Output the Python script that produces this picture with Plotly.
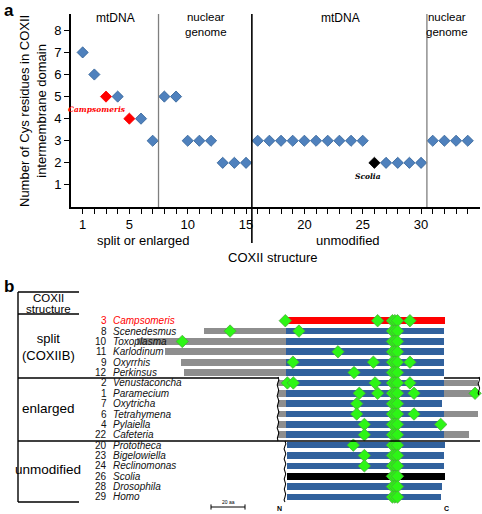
import plotly.graph_objects as go

W, H = 482, 514
FONT = "Liberation Sans, Arial, sans-serif"

# ---------------- Panel a data ----------------
cys_x = list(range(1, 35))
cys_y = [7, 6, 5, 5, 4, 4, 3, 5, 5, 3, 3, 3, 2, 2, 2,
         3, 3, 3, 3, 3, 3, 3, 3, 3, 3, 2, 2, 2, 2, 2, 3, 3, 3, 3]
highlight = {3: "#ff0000", 5: "#ff0000", 26: "#000000"}
x_tick_labels = {1: "1", 5: "5", 10: "10", 15: "15", 20: "20", 25: "25", 30: "30"}
y_ticks = [1, 2, 3, 4, 5, 6, 7, 8]
section_bounds = [7.5, 15.5, 30.5]

# ---------------- Panel b data ----------------
species_num = [3, 8, 10, 11, 9, 12, 2, 1, 7, 6, 4, 22, 20, 23, 24, 26, 28, 29]
species = ["Campsomeris", "Scenedesmus", "Toxoplasma", "Karlodinum", "Oxyrrhis",
           "Perkinsus", "Venustaconcha", "Paramecium", "Oxytricha", "Tetrahymena",
           "Pylaiella", "Cafeteria", "Prototheca", "Bigelowiella", "Reclinomonas",
           "Scolia", "Drosophila", "Homo"]
core_start = [0] * 12 + [0.5] * 6
core_end = [93.5, 93, 93, 93, 93, 93, 93, 93, 91.8, 93, 91.8, 93,
            93.5, 93, 93, 93.5, 91.8, 91.2]
n_ext = [None, -48.2, -87.6, -71.2, -61.8, -60.0,
         -4.7, -4.7, -4.7, -4.7, -4.7, -4.7,
         None, None, None, None, None, None]
c_ext = [None] * 6 + [113.0, 112.5, None, 113.0, None, 107.6] + [None] * 6
core_color = ["#ff0000"] + ["#31619d"] * 14 + ["#000000"] + ["#31619d"] * 2
cluster = [62.6, 64.1, 65.6]
cys_pos = [
    [-0.4, 53.9, 72.9],
    [-32.9, 7.6],
    [-61.0],
    [30.6],
    [4.1, 51.4, 72.9],
    [40.0],
    [0.8, 4.3, 52.4, 72.9],
    [43.1, 53.9, 75.3, 111.2],
    [41.6],
    [41.6, 75.3],
    [46.1, 91.0],
    [46.1],
    [39.6],
    [46.1],
    [46.1],
    [],
    [],
    [],
]
scale_bar_aa = 20

# ---------------- helpers (pixel -> paper) ----------------
def px(x):
    return x / W

def py(y):
    return 1 - y / H

fig = go.Figure()

# ---- Panel a scatter ----
base_x = [x for x in cys_x if x not in highlight]
base_y = [cys_y[x - 1] for x in base_x]
fig.add_trace(go.Scatter(
    x=base_x, y=base_y, mode="markers", xaxis="x", yaxis="y",
    marker=dict(symbol="diamond", size=8.6, color="#4f81bd",
                line=dict(color="#2f5f96", width=0.8)),
    showlegend=False, hoverinfo="x+y"))
for hx, col in highlight.items():
    fig.add_trace(go.Scatter(
        x=[hx], y=[cys_y[hx - 1]], mode="markers", xaxis="x", yaxis="y",
        marker=dict(symbol="diamond", size=8.6, color=col,
                    line=dict(color=col, width=0.8)),
        showlegend=False))

XA_DOM = [px(71), px(480)]
XA_RNG = [0, 35.05]
YA_DOM = [py(207), py(14)]
YA_RNG = [0, 8.74]

def xa_paper(v):
    return XA_DOM[0] + (v - XA_RNG[0]) / (XA_RNG[1] - XA_RNG[0]) * (XA_DOM[1] - XA_DOM[0])

shapes = []
# section boundaries
shapes.append(dict(type="line", xref="paper", yref="paper",
                   x0=xa_paper(section_bounds[0]), x1=xa_paper(section_bounds[0]),
                   y0=py(207), y1=py(14), line=dict(color="#7f7f7f", width=1.3)))
shapes.append(dict(type="line", xref="paper", yref="paper",
                   x0=xa_paper(section_bounds[1]), x1=xa_paper(section_bounds[1]),
                   y0=py(243), y1=py(14), line=dict(color="#000000", width=1.6)))
shapes.append(dict(type="line", xref="paper", yref="paper",
                   x0=xa_paper(section_bounds[2]), x1=xa_paper(section_bounds[2]),
                   y0=py(207), y1=py(14), line=dict(color="#7f7f7f", width=1.3)))

# ---- Panel b ----
X2_RNG = [(0 - 286) / 1.7, (W - 286) / 1.7]
ROW0, ROWH = 320.7, 10.37
Y2_TOP, Y2_BOT = 286, 514
Y2_RNG = [(Y2_BOT - ROW0) / ROWH, (Y2_TOP - ROW0) / ROWH]
rows = list(range(len(species)))
BW = 0.64

# N-terminal extensions
nb, nl, nr = [], [], []
for i in rows:
    if n_ext[i] is not None:
        nb.append(n_ext[i]); nl.append(core_start[i] - n_ext[i]); nr.append(i)
fig.add_trace(go.Bar(orientation="h", base=nb, x=nl, y=nr, width=BW,
                     xaxis="x2", yaxis="y2", marker=dict(color="#8e8e8e", line=dict(width=0)),
                     showlegend=False))
# C-terminal extensions
cb, cl, cr = [], [], []
for i in rows:
    if c_ext[i] is not None:
        cb.append(core_end[i]); cl.append(c_ext[i] - core_end[i]); cr.append(i)
fig.add_trace(go.Bar(orientation="h", base=cb, x=cl, y=cr, width=BW,
                     xaxis="x2", yaxis="y2", marker=dict(color="#8e8e8e", line=dict(width=0)),
                     showlegend=False))
# core domain
fig.add_trace(go.Bar(orientation="h", base=core_start,
                     x=[e - s for s, e in zip(core_start, core_end)], y=rows, width=BW,
                     xaxis="x2", yaxis="y2",
                     marker=dict(color=core_color, line=dict(width=0)),
                     showlegend=False))
# Cys diamonds
dx, dy = [], []
for i in rows:
    for p in cys_pos[i] + cluster:
        dx.append(p); dy.append(i)
fig.add_trace(go.Scatter(x=dx, y=dy, mode="markers", xaxis="x2", yaxis="y2",
                         marker=dict(symbol="diamond", size=9.6, color="#2df516",
                                     line=dict(color="#4c9e3e", width=0.7)),
                         showlegend=False))

# table lines (paper)
def hline(y, x0, x1, w=1.4):
    shapes.append(dict(type="line", xref="paper", yref="paper",
                       x0=px(x0), x1=px(x1), y0=py(y), y1=py(y),
                       line=dict(color="#000000", width=w)))

shapes.append(dict(type="line", xref="paper", yref="paper",
                   x0=px(18), x1=px(18), y0=py(292), y1=py(502),
                   line=dict(color="#000000", width=1.4)))
hline(292, 18, 79)
hline(314, 18, 79)
hline(378, 18, 279)
hline(378, 444, 480)
hline(441, 18, 480)
hline(502, 18, 79)

# wavy break lines (in x2/y2 coordinates)
def wavy(xc, r0, r1, n=14, amp=0.9):
    step = (r1 - r0) / n
    path = f"M {xc} {r0}"
    for k in range(n):
        ya = r0 + step * (k + 0.5)
        yb = r0 + step * (k + 1)
        xo = xc + (amp if k % 2 == 0 else -amp)
        path += f" Q {xo} {ya} {xc} {yb}"
    return dict(type="path", xref="x2", yref="y2", path=path,
                line=dict(color="#000000", width=1.1))

r_a = (377 - ROW0) / ROWH
r_b = (441 - ROW0) / ROWH
r_c = (502 - ROW0) / ROWH
shapes.append(wavy(-4.7, r_a, r_b, n=12))
shapes.append(wavy(-0.6, r_b, r_c, n=12))
shapes.append(wavy(113.5, r_a, (395 - ROW0) / ROWH, n=4))

# scale bar
sb0 = (211 - 286) / 1.7
sb_r = (507 - ROW0) / ROWH
shapes.append(dict(type="line", xref="x2", yref="y2", x0=sb0, x1=sb0 + scale_bar_aa,
                   y0=sb_r, y1=sb_r, line=dict(color="#000000", width=1)))
for xx in (sb0, sb0 + scale_bar_aa):
    shapes.append(dict(type="line", xref="x2", yref="y2", x0=xx, x1=xx,
                       y0=sb_r - 0.25, y1=sb_r + 0.25, line=dict(color="#000000", width=1)))

ann = []
def text(x, y, s, size=12, color="#000", xanchor="center", italic=False, bold=False,
         family=FONT, xref="paper", yref="paper", angle=0):
    if bold:
        s = f"<b>{s}</b>"
    if italic:
        s = f"<i>{s}</i>"
    ann.append(dict(x=x, y=y, xref=xref, yref=yref, text=s, showarrow=False,
                    xanchor=xanchor, yanchor="middle", textangle=angle, borderpad=0,
                    font=dict(size=size, color=color, family=family)))

# panel labels
text(px(9), py(10), "a", size=17, bold=True)
text(px(9), py(286), "b", size=17, bold=True)

# panel a texts
text(px(115), py(18), "mtDNA", size=12)
text(px(206), py(24), "nuclear<br>genome", size=11.5)
text(px(340), py(18), "mtDNA", size=12)
text(px(447), py(24), "nuclear<br>genome", size=11.5)
text(px(143), py(240), "split or enlarged", size=13)
text(px(348), py(240), "unmodified", size=13)
text(px(273), py(257), "COXII structure", size=13)
text(px(33), py(111), "Number of Cys residues in COXII<br>intermembrane domain", size=13, angle=-90)
text(2.2, 4.4, "Campsomeris", size=7.5, color="#ff0000", italic=True, bold=True,
     family="DejaVu Serif, serif", xref="x", yref="y")
text(25.45, 1.4, "Scolia", size=7.5, color="#000000", italic=True, bold=True,
     family="DejaVu Serif, serif", xref="x", yref="y")

# panel b texts
text(px(48), py(297.5), "COXII", size=11.5)
text(px(48), py(308.5), "structure", size=11.5)
text(px(48), py(347), "split<br>(COXIIB)", size=13)
text(px(48), py(408), "enlarged", size=13.5)
text(px(48), py(469), "unmodified", size=13.5)
num_x = (108 - 286) / 1.7
name_x = (112 - 286) / 1.7
for i in rows:
    col = "#ff0000" if species[i] == "Campsomeris" else "#111111"
    text(num_x, i, str(species_num[i]), size=10, color=col, xanchor="right",
         xref="x2", yref="y2")
    text(name_x, i, species[i], size=10, color=col, xanchor="left", italic=True,
         xref="x2", yref="y2")
text(px(279), py(508), "N", size=7, bold=True)
text(px(446), py(508), "C", size=7, bold=True)
text(sb0 + scale_bar_aa / 2, sb_r - 0.45, "20 aa", size=5, xref="x2", yref="y2")

fig.update_layout(
    width=W, height=H, margin=dict(l=0, r=0, t=0, b=0),
    paper_bgcolor="white", plot_bgcolor="white",
    font=dict(family=FONT, size=12, color="#000"),
    barmode="overlay", bargap=0,
    xaxis=dict(domain=XA_DOM, range=XA_RNG, showgrid=False, zeroline=False,
               showline=True, linecolor="#000", linewidth=1.6,
               ticks="outside", ticklen=5, tickwidth=1.3, tickcolor="#000",
               tickvals=cys_x, ticktext=[x_tick_labels.get(v, "") for v in cys_x],
               tickfont=dict(size=13), anchor="y"),
    yaxis=dict(domain=YA_DOM, range=YA_RNG, showgrid=False, zeroline=False,
               showline=True, linecolor="#000", linewidth=1.6,
               ticks="outside", ticklen=5, tickwidth=1.3, tickcolor="#000",
               tickvals=y_ticks, tickfont=dict(size=13), anchor="x"),
    xaxis2=dict(domain=[0, 1], range=X2_RNG, visible=False, anchor="y2"),
    yaxis2=dict(domain=[0, py(Y2_TOP)], range=Y2_RNG, visible=False, anchor="x2"),
    shapes=shapes, annotations=ann,
)

fig.write_html("out.html", config={"displayModeBar": False},
               post_script="document.body.style.margin='0';document.body.style.padding='0';"
                           "document.body.style.overflow='hidden';")
